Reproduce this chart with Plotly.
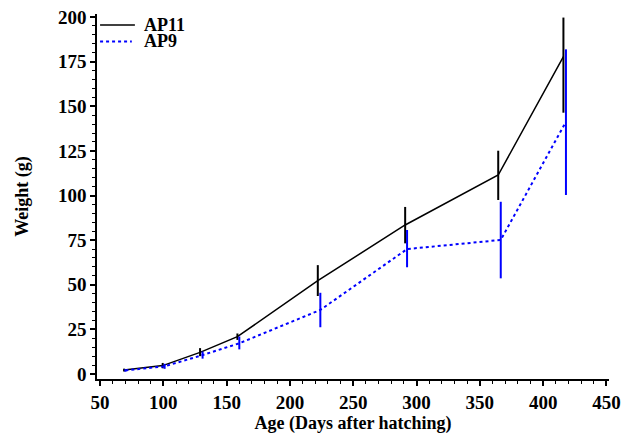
import plotly.graph_objects as go

# AP11 series
ap11_age = [69, 99.5, 129, 158.5, 222, 291, 364.5, 416]
ap11_wt = [2.2, 4.7, 12.1, 20.9, 52.3, 83.5, 111.5, 177.8]
ap11_err_up = [0.8, 1.5, 2.4, 1.8, 8.7, 10.1, 13.6, 21.9]
ap11_err_dn = [0.8, 1.5, 2.1, 1.8, 8.6, 10.3, 14.0, 31.4]

# AP9 series
ap9_age = [70, 101, 131, 160, 224, 292.5, 366.5, 418]
ap9_wt = [2.0, 4.3, 10.6, 17.2, 35.9, 70.0, 75.1, 141.3]
ap9_err_up = [0.7, 1.4, 2.0, 3.8, 9.6, 10.7, 21.4, 40.6]
ap9_err_dn = [0.7, 1.4, 2.0, 3.4, 9.7, 10.2, 21.5, 41.0]

x_ticks = [50, 100, 150, 200, 250, 300, 350, 400, 450]
y_ticks = [0, 25, 50, 75, 100, 125, 150, 175, 200]

FONT = "Liberation Serif, Times New Roman, serif"

fig = go.Figure()
fig.add_trace(go.Scatter(
    x=ap11_age, y=ap11_wt, mode="lines", name="AP11",
    line=dict(color="black", width=1.5),
    error_y=dict(type="data", symmetric=False, array=ap11_err_up,
                 arrayminus=ap11_err_dn, color="black", thickness=2, width=0),
))
fig.add_trace(go.Scatter(
    x=ap9_age, y=ap9_wt, mode="lines", name="AP9",
    line=dict(color="#0000ff", width=2, dash="dot"),
    error_y=dict(type="data", symmetric=False, array=ap9_err_up,
                 arrayminus=ap9_err_dn, color="#0000ff", thickness=2, width=0),
))

axis_common = dict(
    showgrid=False, zeroline=False, showline=True, linecolor="black", linewidth=1.5,
    ticks="outside", ticklen=5, tickwidth=1.5, tickcolor="black", automargin=False,
    tickfont=dict(family=FONT, size=19, color="black", weight="bold"),
)
fig.update_xaxes(
    range=[47.6, 452], tickvals=x_ticks,
    minor=dict(dtick=10, tick0=0, ticks="outside", ticklen=3, tickcolor="black", tickwidth=1),
    title=dict(text="Age (Days after hatching)",
               font=dict(family=FONT, size=18, color="black", weight="bold"), standoff=6),
    **axis_common,
)
fig.update_yaxes(
    range=[-2.8, 201.7], tickvals=y_ticks,
    minor=dict(dtick=5, tick0=0, ticks="outside", ticklen=3, tickcolor="black", tickwidth=1),
    title=dict(text="Weight (g)",
               font=dict(family=FONT, size=18, color="black", weight="bold"), standoff=25),
    **axis_common,
)

# Legend drawn in the upper-left corner of the plot area
legend_names = ["AP11", "AP9"]
legend_colors = ["black", "#0000ff"]
legend_dash = ["solid", "dot"]
legend_y = [0.970, 0.925]
legend_x1 = [0.074, 0.068]
for name, col, dash, ly, lx1 in zip(legend_names, legend_colors, legend_dash, legend_y, legend_x1):
    fig.add_shape(type="line", xref="paper", yref="paper", x0=0.006, x1=lx1, y0=ly, y1=ly,
                  line=dict(color=col, width=2 if dash == "dot" else 1.5, dash=dash))
    fig.add_annotation(xref="paper", yref="paper", x=0.088, y=ly, text=name,
                       showarrow=False, xanchor="left", yanchor="middle",
                       font=dict(family=FONT, size=18, color="black", weight="bold"))

fig.update_layout(
    width=621, height=434,
    margin=dict(l=97, r=12, t=14, b=55),
    paper_bgcolor="white", plot_bgcolor="white",
    font=dict(family=FONT, color="black"),
    showlegend=False,
)
fig.write_html("out.html", config={"displayModeBar": False},
               post_script="document.body.style.margin='0';document.body.style.overflow='hidden';")
